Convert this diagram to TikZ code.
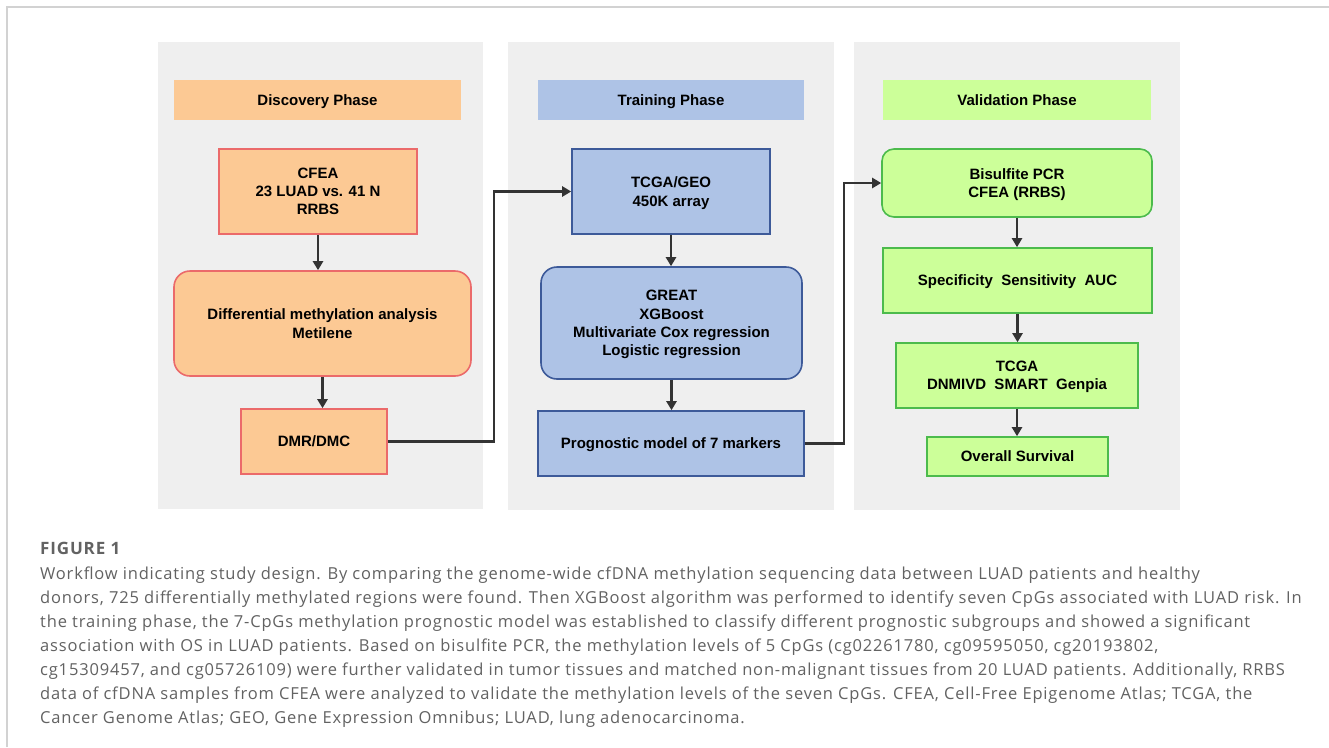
\documentclass[tikz,border=0pt]{standalone}
\usepackage{fontspec}
\setmainfont{Liberation Sans}
\newfontfamily\capfont[LetterSpace=5]{Open Sans}
\usetikzlibrary{arrows.meta}
\definecolor{panelgray}{HTML}{EFEFEF}
\definecolor{orfill}{HTML}{FCC994}
\definecolor{orline}{HTML}{EB6A6A}
\definecolor{blfill}{HTML}{AEC3E6}
\definecolor{blline}{HTML}{3D5A99}
\definecolor{grfill}{HTML}{CCFF99}
\definecolor{grline}{HTML}{4CBB4C}
\definecolor{arrowgray}{HTML}{333333}
\definecolor{capgray}{HTML}{626262}
\definecolor{framegray}{HTML}{D2D2D2}
\tikzset{
  boxtext/.style={font=\fontsize{15}{18.2}\selectfont\bfseries, align=center, text=black, inner sep=0pt, text depth=0pt},
  header/.style={boxtext},
  obox/.style={boxtext, fill=orfill, draw=orline, line width=1.6pt},
  bbox/.style={boxtext, fill=blfill, draw=blline, line width=1.6pt},
  gbox/.style={boxtext, fill=grfill, draw=grline, line width=1.6pt},
  flow/.style={draw=arrowgray, line width=2.4pt, -{Triangle[length=9pt,width=10pt]}},
}
\begin{document}
\begin{tikzpicture}[x=1pt,y=-1pt]
\useasboundingbox (0,0) rectangle (1329,747);
\fill[white] (0,0) rectangle (1329,747);
% frame
\draw[framegray, line width=1.2pt] (7,747) -- (7,7) -- (1329,7);
% panels
\fill[panelgray] (158,42) rectangle (483,509);
\fill[panelgray] (508,42) rectangle (834,510);
\fill[panelgray] (854,42) rectangle (1180,510);
% headers
\fill[orfill] (174,80) rectangle (461,120);
\node[header] (hdisc) at (317.5,100) {Discovery Phase};
\fill[blfill] (538,80) rectangle (804,120);
\node[header] (htrain) at (671,100) {Training Phase};
\fill[grfill] (883,80) rectangle (1151,120);
\node[header] (hval) at (1017,100) {Validation Phase};
% discovery boxes
\node[obox, minimum width=198pt, minimum height=85pt] (cfea) at (318,191.5) {CFEA\\23 LUAD vs. 41 N\\RRBS};
\node[obox, rounded corners=16pt, minimum width=297pt, minimum height=105pt] (diff) at (322.5,323.5) {Differential methylation analysis\\Metilene};
\node[obox, minimum width=146pt, minimum height=65pt] (dmr) at (314,441.5) {DMR/DMC};
% training boxes
\node[bbox, minimum width=198pt, minimum height=85pt] (tcga) at (671,191.5) {TCGA/GEO\\450K array};
\node[bbox, rounded corners=16pt, minimum width=261pt, minimum height=112pt] (great) at (671.5,323) {GREAT\\XGBoost\\Multivariate Cox regression\\Logistic regression};
\node[bbox, minimum width=266pt, minimum height=65pt] (prog) at (671,443.5) {Prognostic model of 7 markers};
% validation boxes
\node[gbox, rounded corners=12pt, minimum width=270pt, minimum height=68pt] (bis) at (1017,183) {Bisulfite PCR\\CFEA (RRBS)};
\node[gbox, minimum width=269pt, minimum height=65pt] (spec) at (1017.5,280.5) {Specificity\ \ Sensitivity\ \ AUC};
\node[gbox, minimum width=242pt, minimum height=65pt] (tcgav) at (1017,375.5) {TCGA\\DNMIVD\ \ SMART\ \ Genpia};
\node[gbox, minimum width=181pt, minimum height=39pt] (os) at (1017.5,456.5) {Overall Survival};
% junction coordinates
\coordinate (j1) at (494,0);
\coordinate (j2) at (844,0);
% arrows
\draw[flow] (cfea.south) -- (cfea.south |- diff.north);
\draw[flow] (diff.south) -- (diff.south |- dmr.north);
\draw[flow] (tcga.south) -- (tcga.south |- great.north);
\draw[flow] (great.south) -- (great.south |- prog.north);
\draw[flow] (bis.south) -- (bis.south |- spec.north);
\draw[flow] (spec.south) -- (spec.south |- tcgav.north);
\draw[flow] (tcgav.south) -- (tcgav.south |- os.north);
\draw[flow] (dmr.east) -- (dmr.east -| j1) |- (tcga.west);
\draw[flow] (prog.east) -- (prog.east -| j2) |- (bis.west);
% caption
\node[anchor=west, inner sep=0pt, text=capgray, font=\capfont\fontsize{17}{20}\selectfont\bfseries] (figlabel) at (40,548) {FIGURE 1};
\node[anchor=north west, inner sep=0pt, text=capgray, align=left, font=\capfont\fontsize{16.5}{24}\selectfont] (caption) at (40,567) {Workflow indicating study design. By comparing the genome-wide cfDNA methylation sequencing data between LUAD patients and healthy\\
donors, 725 differentially methylated regions were found. Then XGBoost algorithm was performed to identify seven CpGs associated with LUAD risk. In\\
the training phase, the 7-CpGs methylation prognostic model was established to classify different prognostic subgroups and showed a significant\\
association with OS in LUAD patients. Based on bisulfite PCR, the methylation levels of 5 CpGs (cg02261780, cg09595050, cg20193802,\\
cg15309457, and cg05726109) were further validated in tumor tissues and matched non-malignant tissues from 20 LUAD patients. Additionally, RRBS\\
data of cfDNA samples from CFEA were analyzed to validate the methylation levels of the seven CpGs. CFEA, Cell-Free Epigenome Atlas; TCGA, the\\
Cancer Genome Atlas; GEO, Gene Expression Omnibus; LUAD, lung adenocarcinoma.};
\end{tikzpicture}
\end{document}
